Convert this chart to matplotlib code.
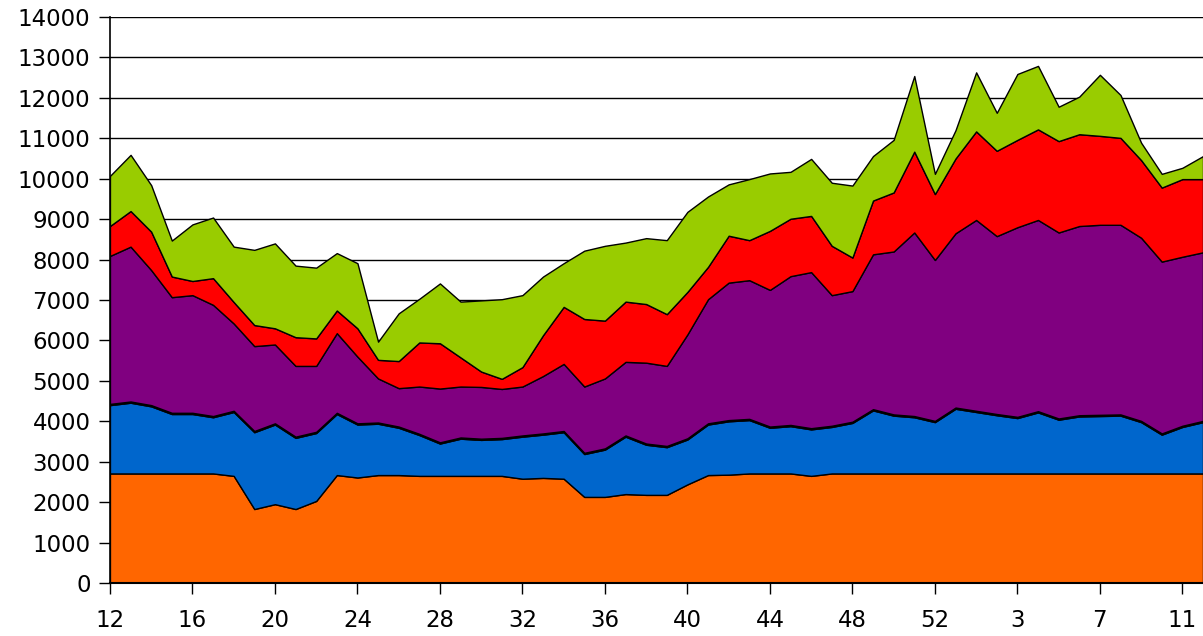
import matplotlib
matplotlib.use('Agg')
import matplotlib.pyplot as plt
import numpy as np

# week numbers along the x axis (week 12 of one year to week 12 of the next)
weeks = list(range(12, 54)) + list(range(1, 13))

# stacked series, bottom to top
orange = [2710, 2710, 2710, 2710, 2710, 2710, 2650, 1830, 1950, 1830,
          2030, 2670, 2610, 2670, 2670, 2650, 2650, 2650, 2650, 2650,
          2580, 2600, 2580, 2130, 2130, 2200, 2180, 2180, 2440, 2670,
          2680, 2710, 2710, 2710, 2650, 2710, 2710, 2710, 2710, 2710,
          2710, 2710, 2710, 2710, 2710, 2710, 2710, 2710, 2710, 2710,
          2710, 2710, 2710, 2710]
blue = [1690, 1750, 1660, 1470, 1470, 1390, 1580, 1900, 1970, 1760,
        1680, 1510, 1310, 1270, 1170, 1010, 800, 920, 890, 910,
        1040, 1070, 1150, 1060, 1170, 1420, 1240, 1180, 1110, 1250,
        1320, 1320, 1130, 1170, 1150, 1150, 1250, 1560, 1430, 1390,
        1270, 1600, 1520, 1440, 1370, 1510, 1330, 1410, 1420, 1430,
        1270, 960, 1150, 1270]
grey = [30] * 54
purple = [3660, 3830, 3340, 2860, 2910, 2750, 2160, 2100, 1950, 1750,
          1630, 1970, 1650, 1090, 950, 1170, 1330, 1260, 1280, 1210,
          1210, 1420, 1660, 1640, 1730, 1820, 2000, 1980, 2570, 3070,
          3400, 3430, 3380, 3680, 3860, 3230, 3230, 3830, 4030, 4540,
          3980, 4310, 4720, 4400, 4690, 4730, 4600, 4680, 4700, 4690,
          4530, 4250, 4180, 4170]
red = [740, 880, 950, 510, 350, 660, 530, 520, 400, 710,
       680, 560, 700, 460, 670, 1090, 1120, 720, 380, 250,
       480, 1010, 1410, 1670, 1430, 1490, 1450, 1280, 1050, 800,
       1160, 990, 1460, 1420, 1390, 1220, 830, 1330, 1460, 2000,
       1630, 1850, 2190, 2110, 2160, 2240, 2260, 2270, 2200, 2150,
       1920, 1830, 1920, 1810]
green = [1240, 1390, 1150, 890, 1400, 1500, 1370, 1860, 2100, 1770,
         1750, 1420, 1610, 450, 1180, 1080, 1480, 1380, 1760, 1970,
         1780, 1450, 1080, 1690, 1850, 1460, 1630, 1830, 1980, 1740,
         1270, 1510, 1420, 1160, 1410, 1560, 1780, 1100, 1300, 1870,
         500, 700, 1460, 940, 1630, 1570, 850, 930, 1510, 1060,
         430, 340, 280, 570]

colors = ['#FF6600', '#0066CC', '#C8C8C8', '#800080', '#FF0000', '#99CC00']

x = np.arange(len(weeks))

fig = plt.figure(figsize=(12.03, 6.36), dpi=100)
ax = fig.add_axes([0.0914, 0.0833, 0.9086, 0.89])

ax.stackplot(x, orange, blue, grey, purple, red, green, colors=colors,
             edgecolor='black', linewidth=1.0, zorder=2)

ax.set_xlim(0, len(weeks) - 1)
ax.set_ylim(0, 14000)
ax.set_yticks(np.arange(0, 14001, 1000))
ax.set_xticks(x[0::4])
ax.set_xticklabels([str(w) for w in weeks[0::4]])

ax.yaxis.grid(True, color='black', linewidth=1.0, zorder=1)
ax.set_axisbelow(True)

for s in ['top', 'right']:
    ax.spines[s].set_visible(False)
ax.spines['left'].set_linewidth(1.2)
ax.spines['bottom'].set_linewidth(1.5)
ax.spines['bottom'].set_zorder(5)

ax.tick_params(axis='both', direction='out', length=8, width=1, labelsize=16.5, colors='black')
ax.tick_params(axis='x', pad=11)
ax.tick_params(axis='y', pad=6)

plt.savefig('out.png', dpi=100)
